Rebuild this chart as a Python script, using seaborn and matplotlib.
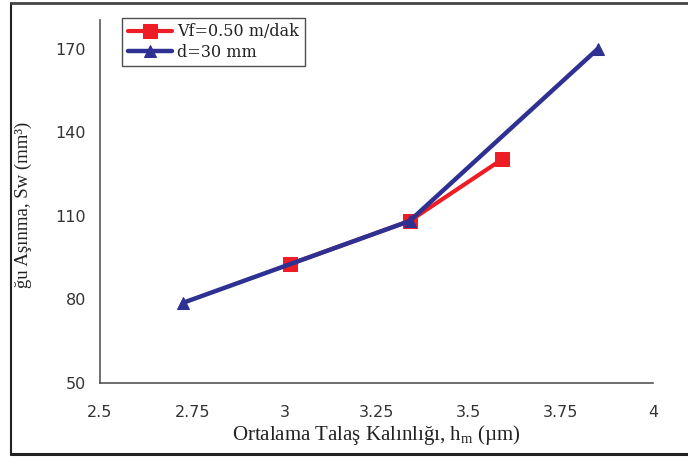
import matplotlib
matplotlib.use("Agg")
import matplotlib.pyplot as plt
import seaborn as sns
import pandas as pd
from matplotlib.lines import Line2D

# data
red_label = "Vf=0.50 m/dak"
red_x = [3.015, 3.34, 3.59]
red_y = [92.7, 108.2, 130.3]
blue_label = "d=30 mm"
blue_x = [2.725, 3.34, 3.85]
blue_y = [78.8, 108.2, 170.0]
x_ticks = [2.5, 2.75, 3, 3.25, 3.5, 3.75, 4]
x_tick_labels = ["2.5", "2.75", "3", "3.25", "3.5", "3.75", "4"]
y_ticks = [50, 80, 110, 140, 170]

sns.set_theme(style="white")
plt.rcParams['font.family'] = ['Liberation Serif', 'DejaVu Serif']
plt.rcParams['mathtext.fontset'] = 'custom'
plt.rcParams['mathtext.rm'] = 'Liberation Serif'
plt.rcParams['mathtext.it'] = 'Liberation Serif'

W, H = 688, 457
fig = plt.figure(figsize=(W/100, H/100), dpi=100)
ax = fig.add_axes([100/W, 1-383/H, 553/W, 363/H])

red_df = pd.DataFrame({"x": red_x, "y": red_y})
blue_df = pd.DataFrame({"x": blue_x, "y": blue_y})

sns.lineplot(data=red_df, x="x", y="y", ax=ax, color="#ee1c24", lw=3.0,
             marker="s", markersize=9.5, markeredgecolor="#ee1c24",
             sort=False, label=red_label, zorder=3)
sns.lineplot(data=blue_df, x="x", y="y", ax=ax, color="#2e3192", lw=3.2,
             marker="^", markersize=8, markeredgecolor="#2e3192",
             sort=False, label=blue_label, zorder=4)

ax.set_xlim(2.5, 4.0)
ax.set_ylim(50, 180.4)
ax.set_xticks(x_ticks)
ax.set_xticklabels(x_tick_labels)
ax.set_yticks(y_ticks)
for s in ["top", "right"]:
    ax.spines[s].set_visible(False)
for s in ["left", "bottom"]:
    ax.spines[s].set_color("#555555")
    ax.spines[s].set_linewidth(1.2)
ax.tick_params(axis="both", direction="out", length=5, width=1.1, color="#555555",
               labelsize=11.5, labelcolor="#333333", pad=5)
for lab in ax.get_xticklabels() + ax.get_yticklabels():
    lab.set_family(["DejaVu Sans"])
ax.tick_params(axis="x", pad=11)
ax.set_xlabel("Ortalama Talaş Kalınlığı, h$_{\\rm m}$ (µm)", fontsize=15,
              color="#222222", labelpad=2)
ax.set_ylabel("")

leg = ax.legend(loc="upper left", bbox_to_anchor=(0.04, 1.006), frameon=True,
                fancybox=False, edgecolor="#222222",
                prop={"family": ["DejaVu Serif"], "size": 11.5},
                handlelength=2.8, handletextpad=0.3, borderpad=0.35,
                labelspacing=0.2, borderaxespad=0)
leg.get_frame().set_linewidth(1.0)
for txt in leg.get_texts():
    txt.set_color("#222222")

# y label (only partly legible in the reference)
fig.text(23/W, 1-205/H, "ğu Aşınma, Sw (mm³)", rotation=90, ha="center",
         va="center", fontsize=13.5, color="#222222")

# outer frame
fig.add_artist(Line2D([11/W, 11/W], [1-3/H, 1-455/H], transform=fig.transFigure,
                      color="#222222", lw=1.5))
fig.add_artist(Line2D([11/W, 1], [1-3/H, 1-3/H], transform=fig.transFigure,
                      color="#444444", lw=2.0))
fig.add_artist(Line2D([11/W, 1], [1-454/H, 1-454/H], transform=fig.transFigure,
                      color="#222222", lw=2.2))

fig.savefig("out.png", dpi=100)
